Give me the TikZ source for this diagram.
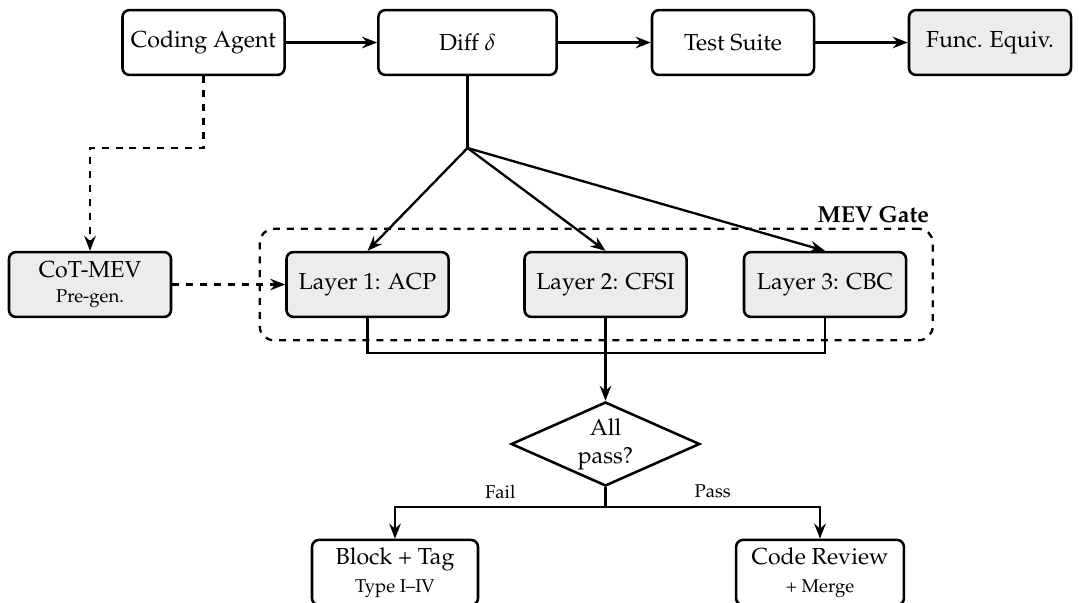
\documentclass[tikz,border=0pt]{standalone}
\usepackage[T1]{fontenc}
\usepackage{mathpazo}
\usetikzlibrary{arrows.meta,shapes.geometric,fit}

\begin{document}
\begin{tikzpicture}[
            x=0.432pt,y=-0.432pt,
            >={Stealth[length=6.5pt,width=5pt,inset=2.2pt]},
            stage/.style={rectangle,rounded corners=3pt,draw,line width=1.1pt,
                    minimum width=70pt,minimum height=28pt,align=center},
            layer/.style={stage,fill=gray!15},
            decision/.style={diamond,draw,line width=1.1pt,aspect=2.2,inner sep=0pt,
                    minimum width=81.5pt,minimum height=36.3pt,align=center},
            flow/.style={line width=1pt,->},
            aux/.style={line width=1pt,dashed,->},
        ]
        \useasboundingbox (0,0) rectangle (1079,602);

        % Pipeline
        \node[stage] (agent) at (203.5,42.5) {Coding Agent};
        \node[stage,minimum width=77pt] (diff) at (467.5,42.5) {Diff $\delta$};
        \node[stage] (tests) at (733,42.5) {Test Suite};
        \node[layer] (equiv) at (990,42.5) {Func. Equiv.};
        \draw[flow] (agent) -- (diff);
        \draw[flow] (diff) -- (tests);
        \draw[flow] (tests) -- (equiv);

        % Pre-generated MEV
        \node[layer] (cot) at (90,284.5) {CoT-MEV\\[-1pt]{\footnotesize Pre-gen.}};
        \coordinate (bend) at (90,148);
        \draw[aux] (agent.south) |- (bend) -- (cot.north);

        % MEV gate layers
        \node[layer] (l1) at (367.5,284.5) {Layer 1: ACP};
        \node[layer] (l2) at (605.5,284.5) {Layer 2: CFSI};
        \node[layer] (l3) at (825,284.5) {Layer 3: CBC};
        \node[draw,dashed,line width=1pt,rounded corners=6pt,inner xsep=11pt,
              inner ysep=9.5pt,fit=(l1)(l3)] (gate) {};
        \node[anchor=south east,font=\bfseries,inner sep=2pt] at (gate.north east) {MEV Gate};
        \draw[aux] (cot) -- (l1);

        \coordinate (split) at (467.5,148);
        \draw[line width=1pt] (diff.south) -- (split);
        \foreach \lay in {l1,l2,l3} {
                \draw[flow] (split) -- (\lay.north);
            }

        % Decision
        \node[decision] (check) at (605.5,444) {All\\pass?};
        \coordinate (merge) at (605.5,353);
        \draw[line width=1pt] (l1.south) |- (merge) -| (l3.south);
        \draw[flow] (l2.south) -- (check.north);

        % Outcomes
        \node[stage,minimum width=71.7pt] (block) at (395,572.5) {Block + Tag\\{\footnotesize Type I--IV}};
        \node[stage,minimum width=72.5pt] (review) at (820,572.5) {Code Review\\{\footnotesize + Merge}};
        \coordinate (fork) at (605.5,507);
        \draw[line width=1pt] (check.south) -- (fork);
        \draw[flow] (fork) -| node[pos=0.25,above] {\footnotesize Fail} (block.north);
        \draw[flow] (fork) -| node[pos=0.25,above] {\footnotesize Pass} (review.north);

    \end{tikzpicture}
\end{document}
